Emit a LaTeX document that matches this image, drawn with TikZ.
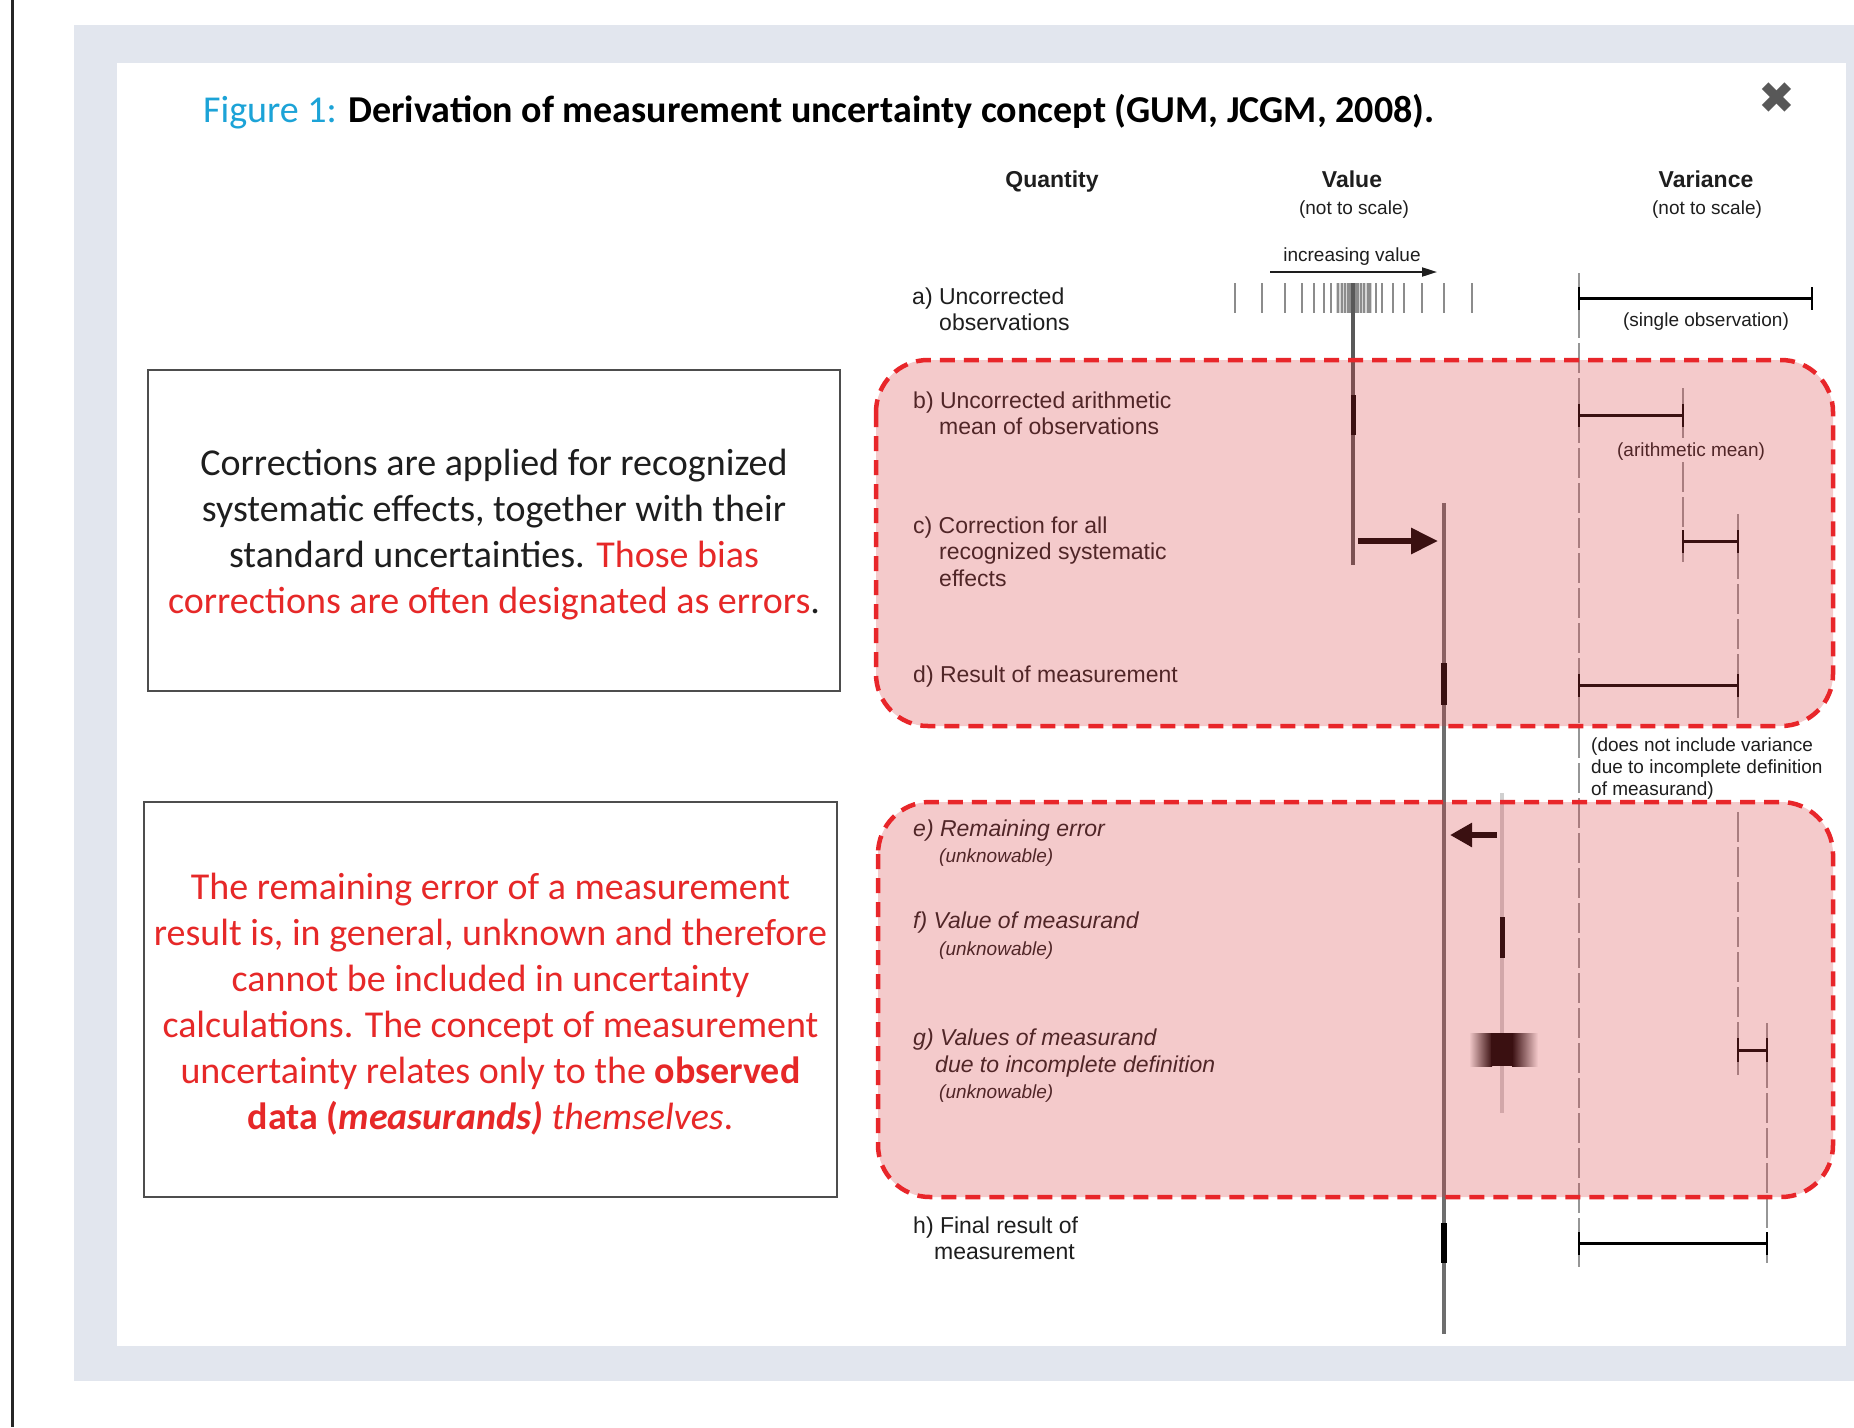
\documentclass[tikz,border=0pt]{standalone}
\usepackage{fontspec}
\setmainfont{Liberation Sans}
\newfontfamily\calfont{Carlito}
\newfontfamily\symfont{DejaVu Sans}
\usetikzlibrary{arrows.meta}
\definecolor{bggray}{RGB}{226,230,238}
\definecolor{figcyan}{RGB}{28,163,215}
\definecolor{txtred}{RGB}{230,40,40}
\definecolor{bred}{RGB}{232,38,42}
\definecolor{ovl}{RGB}{218,60,66}
\definecolor{labcol}{RGB}{30,30,30}
\definecolor{guidecol}{RGB}{150,150,150}
\definecolor{valcol}{RGB}{110,110,110}
\definecolor{obscol}{RGB}{140,140,140}
\definecolor{palecol}{RGB}{208,208,208}
\definecolor{boxcol}{RGB}{77,77,77}
\definecolor{xgray}{RGB}{88,88,88}
\begin{document}
\begin{tikzpicture}[x=1pt,y=-1pt,
  lab/.style={anchor=base west, inner sep=0pt, text=labcol, font=\fontsize{23}{27}\selectfont},
  ilab/.style={lab, font=\itshape\fontsize{23}{27}\selectfont},
  sml/.style={anchor=base, inner sep=0pt, text=labcol, font=\fontsize{19}{22}\selectfont},
  smlw/.style={sml, anchor=base west},
  ism/.style={smlw, font=\itshape\fontsize{19}{22}\selectfont},
  hdr/.style={anchor=base, inner sep=0pt, text=labcol, font=\bfseries\fontsize{23}{27}\selectfont},
  guide/.style={draw=guidecol, line width=1.2pt, dash pattern=on 30pt off 5pt},
  vbar/.style={line width=3pt, draw=black},
  vtick/.style={line width=2.5pt, draw=black},
  thickseg/.style={line width=6pt, draw=black},
  obs/.style={line width=1.8pt, draw=obscol},
  region/.style={fill=ovl, fill opacity=0.27, rounded corners=52pt},
  regborder/.style={draw=bred, line width=4.5pt, dash pattern=on 15pt off 9pt, rounded corners=52pt},
  boxframe/.style={draw=boxcol, line width=2.5pt, inner sep=0pt},
  boxtext/.style={inner sep=0pt, align=center, font=\calfont\fontsize{38}{46}\selectfont}
]
\useasboundingbox (0,0) rectangle (1854,1427);
\fill[white] (0,0) rectangle (1854,1427);
\draw[line width=2.5pt, black!85] (12.5,0) -- (12.5,1427);
\fill[bggray] (74,25) rectangle (1854,1381);
\fill[white] (117,63) rectangle (1846,1346);

% title
\node[anchor=base west, inner sep=0pt, font=\calfont\bfseries\fontsize{38}{46}\selectfont] (title) at (203,122)
  {\textcolor{figcyan}{\mdseries Figure 1:} Derivation of measurement uncertainty concept (GUM, JCGM, 2008).};
\node[inner sep=0pt, text=xgray, font=\symfont\fontsize{44}{44}\selectfont] (close) at (1777,98) {✖};

% headers
\node[hdr] (hq) at (1052,187) {Quantity};
\node[hdr] (hv) at (1352,187) {Value};
\node[hdr] (hvar) at (1706,187) {Variance};
\node[sml] (nsv) at (1354,214) {(not to scale)};
\node[sml] (nsvar) at (1707,214) {(not to scale)};
\node[sml] (incr) at (1352,261) {increasing value};

% labels
\node[lab] (la1) at (912,304) {a) Uncorrected};
\node[lab] (la2) at (939,330) {observations};
\node[lab] (lb1) at (913,408) {b) Uncorrected arithmetic};
\node[lab] (lb2) at (939,434) {mean of observations};
\node[lab] (lc1) at (913,533) {c) Correction for all};
\node[lab] (lc2) at (939,559) {recognized systematic};
\node[lab] (lc3) at (939,586) {effects};
\node[lab] (ld1) at (913,682) {d) Result of measurement};
\node[ilab] (le1) at (913,836) {e) Remaining error};
\node[ism] (le2) at (939,862) {(unknowable)};
\node[ilab] (lf1) at (913,928) {f) Value of measurand};
\node[ism] (lf2) at (939,955) {(unknowable)};
\node[ilab] (lg1) at (913,1045) {g) Values of measurand};
\node[ilab] (lg2) at (935,1072) {due to incomplete definition};
\node[ism] (lg3) at (939,1098) {(unknowable)};
\node[lab] (lh1) at (913,1233) {h) Final result of};
\node[lab] (lh2) at (934,1259) {measurement};

% variance notes
\node[sml] (nsingle) at (1706,326) {(single observation)};
\node[sml] (narith) at (1691,456) {(arithmetic mean)};
\node[smlw] (nd1) at (1591,751) {(does not include variance};
\node[smlw] (nd2) at (1591,773) {due to incomplete definition};
\node[smlw] (nd3) at (1591,795) {of measurand)};

% increasing value arrow
\draw[line width=2pt, draw=labcol, -{Triangle[length=15pt,width=9pt]}] (1270,272) -- (1437,272);

% observation ticks
\fill[black!16] (1336,283) rectangle (1372,313);
\foreach \xx in {1235,1262,1285,1302,1314,1324,1331,1338,1342,1345,1348,1350,1356,1358,1361,1364,1368,1370,1376,1382,1393,1404,1422,1444,1472}
  \draw[obs] (\xx,283) -- (\xx,313);

% guide lines (variance)
\draw[guide] (1579,273) -- (1579,1267);
\draw[guide] (1683,388) -- (1683,438);
\draw[guide] (1683,462) -- (1683,565);
\draw[guide] (1738,514) -- (1738,718);
\draw[guide] (1738,812) -- (1738,1075);
\draw[guide] (1767,1023) -- (1767,1267);

% variance bars
\draw[vbar] (1579,298) -- (1812,298);
\draw[vtick] (1579,287) -- (1579,310) (1812,287) -- (1812,310);
\draw[vbar] (1579,415) -- (1683,415);
\draw[vtick] (1579,404) -- (1579,427) (1683,404) -- (1683,427);
\draw[vbar] (1683,541) -- (1738,541);
\draw[vtick] (1683,530) -- (1683,553) (1738,530) -- (1738,553);
\draw[vbar] (1579,685) -- (1738,685);
\draw[vtick] (1579,674) -- (1579,697) (1738,674) -- (1738,697);
\draw[vbar] (1738,1050) -- (1767,1050);
\draw[vtick] (1738,1038) -- (1738,1062) (1767,1038) -- (1767,1062);
\draw[vbar] (1579,1243) -- (1767,1243);
\draw[vtick] (1579,1232) -- (1579,1255) (1767,1232) -- (1767,1255);

% value lines
\draw[line width=3.5pt, draw=black!65] (1353,283) -- (1353,565);
\draw[thickseg, line width=5pt] (1353,395) -- (1353,435);
\draw[line width=4pt, draw=valcol] (1444,503) -- (1444,1334);
\draw[thickseg] (1444,663) -- (1444,705);
\draw[thickseg] (1444,1223) -- (1444,1263);
\draw[line width=4pt, draw=palecol] (1502,793) -- (1502,1113);
\draw[thickseg, line width=5pt] (1502,917) -- (1502,958);

% correction arrows
\draw[line width=6pt, draw=black, -{Triangle[length=27pt,width=25pt]}] (1358,541) -- (1438,541);
\draw[line width=6pt, draw=black, -{Triangle[length=22pt,width=23pt]}] (1497,835) -- (1450,835);

% blurred values of measurand
\shade[left color=white, right color=black] (1469,1033) rectangle (1492,1066);
\fill[black] (1491,1033) rectangle (1513,1066);
\shade[left color=black, right color=white] (1512,1033) rectangle (1538,1066);

% overlays
\fill[region] (876,360) rectangle (1833,726);
\fill[region] (878,802) rectangle (1833,1197);
\draw[regborder] (876,360) rectangle (1833,726);
\draw[regborder] (878,802) rectangle (1833,1197);

% text boxes
\node[boxframe, minimum width=692pt, minimum height=321pt] (box1) at (494,530.5) {};
\node[boxtext, text=labcol] (box1t) at (494,535)
  {Corrections are applied for recognized\\systematic effects, together with their\\standard uncertainties. \textcolor{txtred}{Those bias}\\\textcolor{txtred}{corrections are often designated as errors}.};
\node[boxframe, minimum width=693pt, minimum height=395pt] (box2) at (490.5,999.5) {};
\node[boxtext, text=txtred] (box2t) at (490.5,1004)
  {The remaining error of a measurement\\result is, in general, unknown and therefore\\cannot be included in uncertainty\\calculations. The concept of measurement\\uncertainty relates only to the \textbf{observed}\\\textbf{data (\textit{measurands)}} \textit{themselves}.};
\end{tikzpicture}
\end{document}
